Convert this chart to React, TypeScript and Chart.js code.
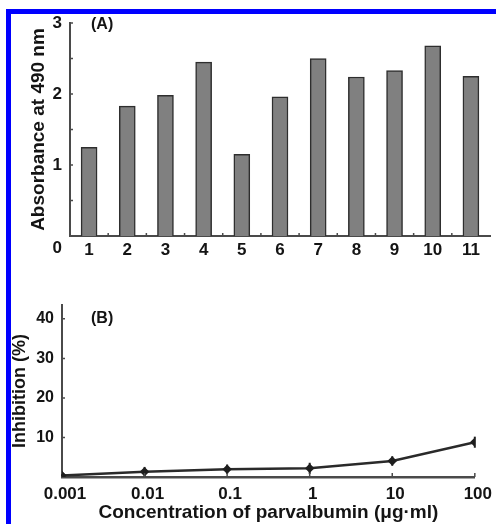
import React, { useEffect, useRef } from 'react';
import { Chart, registerables } from 'chart.js';

Chart.register(...registerables);

// ---------- Data ----------
const sampleLabels = ['1', '2', '3', '4', '5', '6', '7', '8', '9', '10', '11'];
const absorbance = [1.25, 1.83, 1.98, 2.45, 1.15, 1.96, 2.5, 2.24, 2.33, 2.68, 2.25];
const absorbanceTicks = [0, 1, 2, 3];
const absorbanceMinorTicks = [0.5, 1, 1.5, 2, 2.5, 3];

const concentrations = [0.001, 0.01, 0.1, 1, 10, 100];
const inhibition = [0.4, 1.35, 1.95, 2.2, 4.05, 8.8];
const inhibitionErr = [0.3, 1.2, 1.2, 1.4, 1.2, 1.4];
const inhibitionTicks = [0, 10, 20, 30, 40];

const FONT = '"Liberation Sans", Arial, sans-serif';
const INK = '#141414';
const AXIS = '#4a4a4a';

type TextItem = { text: string; x: number; y: number; size: number; align: CanvasTextAlign };

const textPlugin = (items: TextItem[]) => ({
  id: 'panelText',
  afterDraw(chart: any) {
    const ctx = chart.ctx;
    ctx.save();
    ctx.fillStyle = INK;
    ctx.textBaseline = 'middle';
    for (const it of items) {
      ctx.font = `bold ${it.size}px ${FONT}`;
      ctx.textAlign = it.align;
      ctx.fillText(it.text, it.x, it.y);
    }
    ctx.restore();
  },
});

const innerTicksPlugin = (yValues: number[], xBoundaries: boolean, xValues: number[]) => ({
  id: 'innerTicks',
  afterDraw(chart: any) {
    const ctx = chart.ctx;
    const { x, y } = chart.scales;
    const area = chart.chartArea;
    ctx.save();
    ctx.strokeStyle = AXIS;
    ctx.lineWidth = 1.5;
    ctx.beginPath();
    for (const v of yValues) {
      const py = y.getPixelForValue(v);
      ctx.moveTo(area.left, py);
      ctx.lineTo(area.left + 3, py);
    }
    if (xBoundaries) {
      const n = x.ticks.length;
      for (let i = 1; i < n; i++) {
        const px = (x.getPixelForTick(i - 1) + x.getPixelForTick(i)) / 2;
        ctx.moveTo(px, area.bottom);
        ctx.lineTo(px, area.bottom - 3);
      }
    }
    for (const v of xValues) {
      const px = x.getPixelForValue(v);
      ctx.moveTo(px, area.bottom);
      ctx.lineTo(px, area.bottom - 4);
    }
    ctx.stroke();
    ctx.restore();
  },
});

const errorBarPlugin = {
  id: 'errorBars',
  afterDatasetsDraw(chart: any) {
    const ctx = chart.ctx;
    const meta = chart.getDatasetMeta(0);
    const yScale = chart.scales.y;
    ctx.save();
    ctx.strokeStyle = '#1e1e1e';
    ctx.lineWidth = 2;
    meta.data.forEach((pt: any, i: number) => {
      const v = inhibition[i];
      const e = inhibitionErr[i];
      const y1 = yScale.getPixelForValue(v + e);
      const y2 = yScale.getPixelForValue(Math.max(0, v - e));
      ctx.beginPath();
      ctx.moveTo(pt.x, y1);
      ctx.lineTo(pt.x, y2);
      ctx.stroke();
    });
    ctx.restore();
  },
};

const noGrid = { display: false, drawTicks: false, tickLength: 0 };

function PanelA() {
  const ref = useRef<HTMLCanvasElement | null>(null);
  useEffect(() => {
    if (!ref.current) return;
    const chart = new Chart(ref.current, {
      type: 'bar',
      data: {
        labels: sampleLabels,
        datasets: [
          {
            data: absorbance,
            backgroundColor: '#808080',
            borderColor: '#2e2e2e',
            borderWidth: 1.5,
            barThickness: 16,
          },
        ],
      },
      options: {
        responsive: false,
        animation: false,
        devicePixelRatio: 1,
        layout: { padding: { left: 12, top: 23, right: 6, bottom: 0 } },
        plugins: { legend: { display: false }, tooltip: { enabled: false } },
        scales: {
          x: {
            grid: noGrid,
            border: { display: true, color: AXIS, width: 2 },
            ticks: {
              color: INK,
              padding: 4,
              font: { family: FONT, size: 17, weight: 'bold' },
            },
            afterFit: (s: any) => {
              s.height = 26;
            },
          },
          y: {
            min: 0,
            max: 3,
            afterBuildTicks: (s: any) => {
              s.ticks = absorbanceTicks.map((v) => ({ value: v }));
            },
            grid: noGrid,
            border: { display: true, color: AXIS, width: 2 },
            ticks: {
              color: INK,
              padding: 8,
              font: { family: FONT, size: 17, weight: 'bold' },
              callback: (v: any) => (v === 0 ? '' : String(v)),
            },
            title: {
              display: true,
              text: 'Absorbance at 490 nm',
              color: INK,
              font: { family: FONT, size: 19, weight: 'bold' },
              padding: { top: 15, bottom: 0 },
            },
            afterFit: (s: any) => {
              s.width = 58;
            },
          },
        },
      },
      plugins: [
        textPlugin([
          { text: '0', x: 62, y: 248, size: 17, align: 'right' },
          { text: '(A)', x: 91, y: 25, size: 16, align: 'left' },
        ]),
        innerTicksPlugin(absorbanceMinorTicks, true, []),
      ],
    } as any);
    return () => chart.destroy();
  }, []);
  return (
    <canvas
      ref={ref}
      width={496}
      height={262}
      style={{ position: 'absolute', left: 0, top: 0, width: 496, height: 262 }}
    />
  );
}

function PanelB() {
  const ref = useRef<HTMLCanvasElement | null>(null);
  useEffect(() => {
    if (!ref.current) return;
    const chart = new Chart(ref.current, {
      type: 'line',
      data: {
        datasets: [
          {
            data: concentrations.map((c, i) => ({ x: c, y: inhibition[i] })),
            borderColor: '#2a2a2a',
            borderWidth: 2.5,
            pointStyle: 'rectRot',
            pointRadius: 3,
            pointBackgroundColor: '#1e1e1e',
            pointBorderColor: '#1e1e1e',
            tension: 0,
          },
        ],
      },
      options: {
        responsive: false,
        animation: false,
        devicePixelRatio: 1,
        layout: { padding: { left: 0, top: 43, right: 19, bottom: 0 } },
        plugins: { legend: { display: false }, tooltip: { enabled: false } },
        scales: {
          x: {
            type: 'logarithmic',
            min: 0.001,
            max: 100,
            afterBuildTicks: (s: any) => {
              s.ticks = concentrations.map((v) => ({ value: v }));
            },
            grid: noGrid,
            border: { display: true, color: AXIS, width: 2.5 },
            ticks: {
              color: INK,
              padding: 7,
              labelOffset: 3,
              font: { family: FONT, size: 17, weight: 'bold' },
              callback: (v: any) => String(v),
            },
            title: {
              display: true,
              text: 'Concentration of parvalbumin (μg·ml)',
              color: INK,
              font: { family: FONT, size: 19, weight: 'bold' },
              padding: { top: 0, bottom: 0 },
            },
            afterFit: (s: any) => {
              s.height = 47;
            },
          },
          y: {
            min: 0,
            max: 43.5,
            afterBuildTicks: (s: any) => {
              s.ticks = inhibitionTicks.map((v) => ({ value: v }));
            },
            grid: noGrid,
            border: { display: true, color: AXIS, width: 2 },
            ticks: {
              color: INK,
              padding: 8,
              font: { family: FONT, size: 16, weight: 'bold' },
              callback: (v: any) => (v === 0 ? '' : String(v)),
            },
            title: {
              display: true,
              text: 'Inhibition (%)',
              color: INK,
              font: { family: FONT, size: 18, weight: 'bold' },
              padding: { top: 9, bottom: 0 },
            },
            afterFit: (s: any) => {
              s.width = 62;
            },
          },
        },
      },
      plugins: [
        textPlugin([{ text: '(B)', x: 91, y: 57, size: 16, align: 'left' }]),
        innerTicksPlugin([10, 20, 30, 40], false, concentrations.slice(1)),
        errorBarPlugin,
      ],
    } as any);
    return () => chart.destroy();
  }, []);
  return (
    <canvas
      ref={ref}
      width={496}
      height={262}
      style={{ position: 'absolute', left: 0, top: 262, width: 496, height: 262 }}
    />
  );
}

export default function App() {
  return (
    <div
      style={{
        position: 'absolute',
        left: 0,
        top: 0,
        width: 496,
        height: 524,
        background: '#ffffff',
        overflow: 'hidden',
      }}
    >
      <div
        style={{
          position: 'absolute',
          left: 6,
          top: 9,
          width: 490,
          height: 515,
          boxSizing: 'border-box',
          borderLeft: '5px solid #0000ff',
          borderTop: '5px solid #0000ff',
        }}
      />
      <PanelA />
      <PanelB />
    </div>
  );
}
